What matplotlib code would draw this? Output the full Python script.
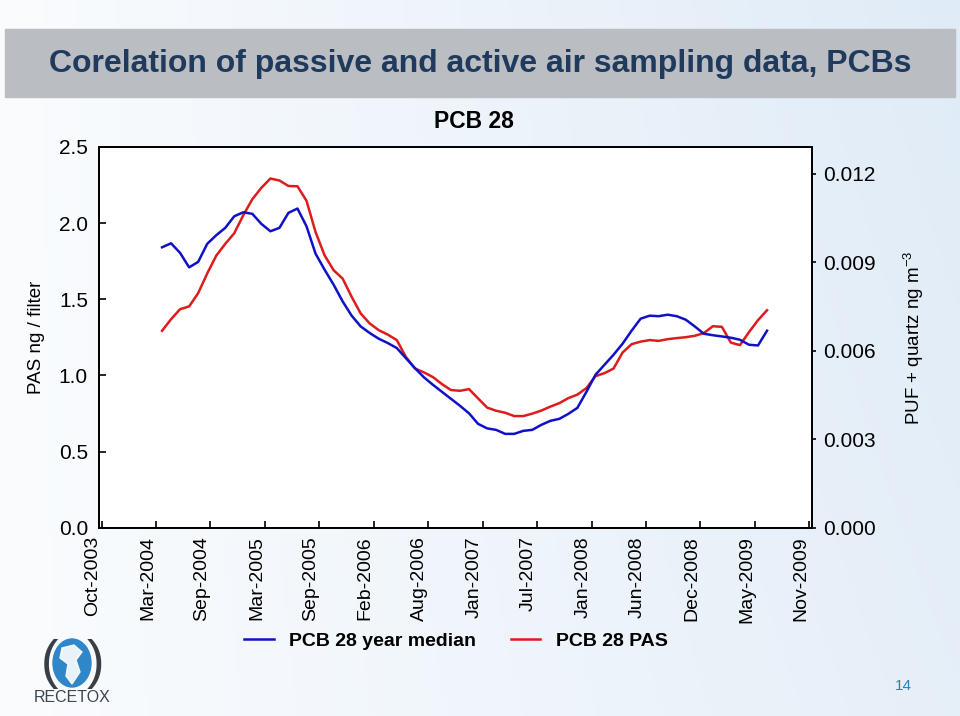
"""PCB 28: passive (PAS) vs active air sampling, recreated slide chart."""

import numpy as np
import matplotlib
matplotlib.use("Agg")
import matplotlib.pyplot as plt
from matplotlib.patches import Rectangle, Ellipse, Polygon
from matplotlib.lines import Line2D

plt.rcParams['font.family'] = ['Liberation Sans', 'DejaVu Sans']

# data
tick_labels = ["Oct-2003", "Mar-2004", "Sep-2004", "Mar-2005", "Sep-2005", "Feb-2006",
               "Aug-2006", "Jan-2007", "Jul-2007", "Jan-2008", "Jun-2008", "Dec-2008",
               "May-2009", "Nov-2009"]

# PCB 28 PAS, ng / filter (left axis)
pas = [1.293, 1.369, 1.435, 1.453, 1.540, 1.669, 1.786, 1.864, 1.934, 2.052,
       2.157, 2.232, 2.293, 2.280, 2.244, 2.242, 2.147, 1.942, 1.789, 1.691,
       1.636, 1.516, 1.407, 1.341, 1.297, 1.268, 1.232, 1.122, 1.046, 1.020,
       0.989, 0.943, 0.904, 0.899, 0.910, 0.849, 0.789, 0.768, 0.755, 0.733,
       0.733, 0.749, 0.769, 0.795, 0.818, 0.851, 0.874, 0.917, 0.995, 1.015,
       1.045, 1.150, 1.205, 1.222, 1.232, 1.227, 1.238, 1.245, 1.251, 1.260,
       1.278, 1.323, 1.319, 1.215, 1.199, 1.284, 1.363, 1.428]

# PCB 28 year median, PUF + quartz, ng m-3 (right axis), in 1e-3 units
median_e3 = [9.513, 9.649, 9.323, 8.834, 9.017, 9.629, 9.921, 10.172, 10.566, 10.702,
             10.648, 10.308, 10.057, 10.172, 10.682, 10.828, 10.226, 9.299, 8.755, 8.246,
             7.678, 7.193, 6.829, 6.605, 6.411, 6.265, 6.095, 5.755, 5.416, 5.103,
             4.848, 4.610, 4.373, 4.135, 3.880, 3.523, 3.370, 3.319, 3.183, 3.183,
             3.285, 3.319, 3.489, 3.625, 3.693, 3.863, 4.067, 4.610, 5.188, 5.528,
             5.867, 6.241, 6.683, 7.091, 7.193, 7.176, 7.227, 7.176, 7.057, 6.829,
             6.581, 6.530, 6.489, 6.445, 6.377, 6.207, 6.183, 6.683]
median = np.array(median_e3) / 1000.0
x = np.arange(len(pas))

W, H = 960, 716
fig = plt.figure(figsize=(W / 100, H / 100), dpi=100)

# slide background: pale blue gradient
bg = fig.add_axes([0, 0, 1, 1], zorder=0)
gx = np.linspace(0, 1, 200)[None, :]
gy = np.linspace(0, 1, 150)[:, None]
w = 0.12 + 0.5 * gx + 0.15 * (1 - gy) * gx
c0 = np.array([1.0, 1.0, 1.0])
c1 = np.array([0.84, 0.90, 0.96])
img = (1 - w[..., None]) * c0 + w[..., None] * c1
bg.imshow(img, extent=[0, W, H, 0], aspect='auto')
bg.set_xlim(0, W)
bg.set_ylim(H, 0)
bg.axis('off')

# title banner
bg.add_patch(Rectangle((5, 29), 950, 68, color='#babdc1', zorder=2))
bg.text(480, 64, "Corelation of passive and active air sampling data, PCBs",
        ha='center', va='center', fontsize=23, fontweight='bold', color='#1f3a5c',
        zorder=3)

# logo and page number
bg.text(50, 664, "(", ha='center', va='center', fontsize=38, color='#3a3f46', zorder=3)
bg.text(95, 664, ")", ha='center', va='center', fontsize=38, color='#3a3f46', zorder=3)
bg.add_patch(Ellipse((72, 663), 38, 48, color='#2f87c9', zorder=3))
bg.add_patch(Polygon([[62, 648], [74, 645], [82, 652], [76, 660], [80, 672],
                      [72, 684], [66, 676], [68, 664], [60, 658]],
                     closed=True, color='white', alpha=0.9, zorder=4))
bg.text(72, 697, "RECETOX", ha='center', va='center', fontsize=11.5, color='#3b4550', zorder=3)
bg.text(903, 686, "14", ha='center', va='center', fontsize=11, color='#2f7fb0', zorder=3)

# chart
ax = fig.add_axes([99 / W, 1 - 527.7 / H, (812 - 99) / W, (527.7 - 147) / H], zorder=2)
ax.set_facecolor('white')
ax2 = ax.twinx()

ax.plot(x, pas, color='#dd1c1c', lw=1.8, zorder=3)
ax2.plot(x, median, color='#1010c8', lw=1.8, zorder=3)

tick_pos = -6.7 + 6.03 * np.arange(len(tick_labels))
ax.set_xlim(-6.98, 71.98)
ax.set_xticks(tick_pos)
ax.set_xticklabels(tick_labels, rotation=90, ha='right', fontsize=14)

ax.set_ylim(0, 2.5)
ax.set_yticks(np.arange(0, 2.51, 0.5))
ax.set_yticklabels([f"{v:.1f}" for v in np.arange(0, 2.51, 0.5)], fontsize=15)
ax2.set_ylim(0, 0.012916)
ax2.set_yticks(np.arange(0, 0.0121, 0.003))
ax2.set_yticklabels([f"{v:.3f}" for v in np.arange(0, 0.0121, 0.003)], fontsize=15)

ax.tick_params(axis='y', direction='in', length=5, width=1.2, pad=8)
ax.tick_params(axis='x', direction='in', length=5, width=1.2, pad=6)
ax2.tick_params(axis='y', direction='out', length=3, width=1.2, pad=5)
for a in (ax, ax2):
    for s in a.spines.values():
        s.set_linewidth(1.3)

ax.set_ylabel("PAS ng / filter", fontsize=13.5, labelpad=10)
ax2.set_ylabel(r"PUF + quartz ng m$^{\mathregular{-3}}$", fontsize=13.5, labelpad=18)
ax.set_title("PCB 28", fontsize=16.5, fontweight='bold', pad=14, x=0.526)

handles = [Line2D([], [], color='#1010c8', lw=1.8),
           Line2D([], [], color='#dd1c1c', lw=1.8)]
fig.legend(handles, ["PCB 28 year median", "PCB 28 PAS"], loc='center',
           bbox_to_anchor=(0.475, 1 - 641 / H), ncol=2, frameon=False,
           prop={'size': 14, 'weight': 'bold'}, handlelength=1.5,
           handletextpad=0.8, columnspacing=1.8)

fig.savefig("out.png", dpi=100)
